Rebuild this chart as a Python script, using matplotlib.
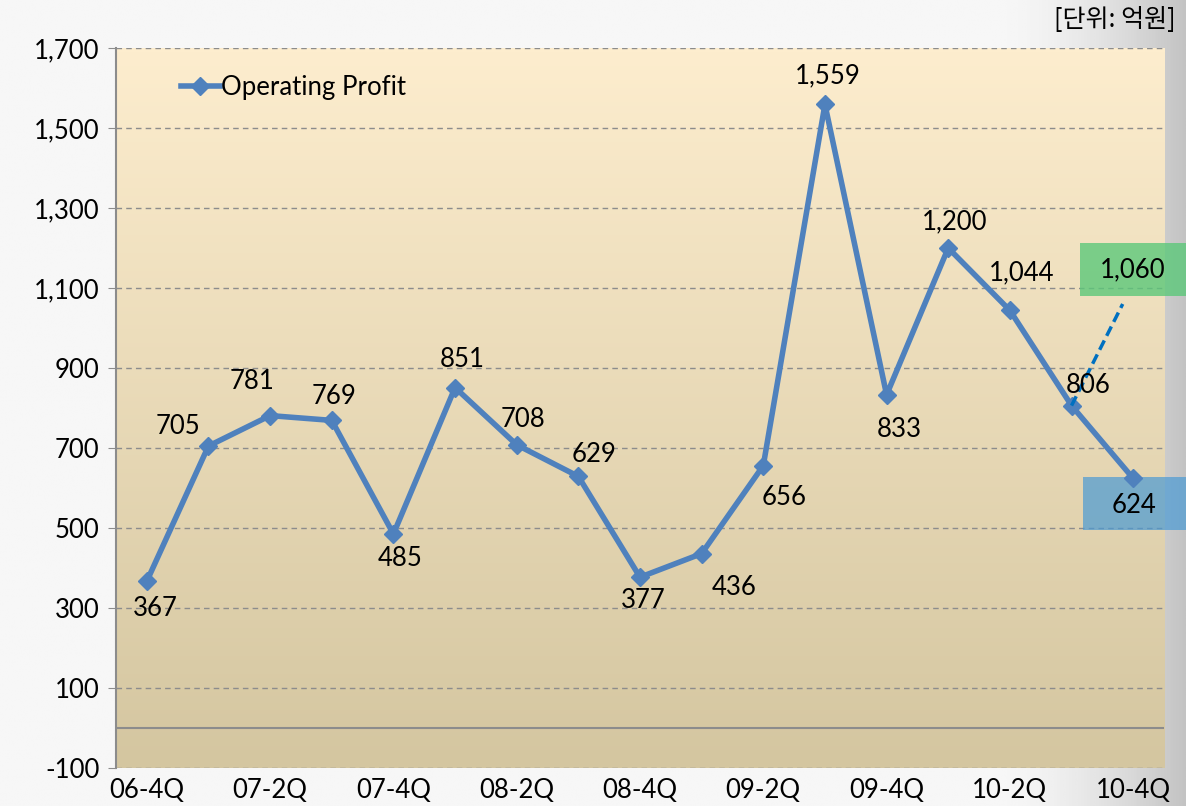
import matplotlib
matplotlib.use("Agg")
import matplotlib.pyplot as plt
from matplotlib.patches import Rectangle
import numpy as np

plt.rcParams['font.family'] = ['Lato', 'Noto Sans CJK KR', 'DejaVu Sans']

# data
quarters = ["06-4Q", "07-1Q", "07-2Q", "07-3Q", "07-4Q", "08-1Q", "08-2Q", "08-3Q",
            "08-4Q", "09-1Q", "09-2Q", "09-3Q", "09-4Q", "10-1Q", "10-2Q", "10-3Q", "10-4Q"]
profit = [367, 705, 781, 769, 485, 851, 708, 629, 377, 436, 656, 1559, 833, 1200, 1044, 806, 624]
forecast_value = 1060
# label placement: (dx, dy) in pixels from the point
label_off = [(8, -27), (-30, 19), (-18, 34), (2, 24), (7, -25), (7, 28), (6, 25), (16, 22),
             (3, -23), (33, -34), (21, -32), (3, 29), (13, -35), (6, 26), (12, 38), (17, 20)]

W, H = 1186, 806
fig = plt.figure(figsize=(W / 100, H / 100), dpi=100)

# figure background: near white, greying at the right edge
bg = fig.add_axes([0, 0, 1, 1], zorder=-10)
grad = np.clip((np.linspace(0, 1, 400) - 0.85) / 0.15, 0, 1) ** 1.5
bg.imshow(np.tile(0.965 - 0.2 * grad, (10, 1)), cmap='gray', vmin=0, vmax=1,
          aspect='auto', extent=[0, 1, 0, 1])
bg.axis('off')

ax = fig.add_axes([116 / W, 1 - 768 / H, 1048 / W, 720 / H])
ax.set_xlim(-0.5, len(quarters) - 0.5)
ax.set_ylim(-100, 1700)

# plot-area gradient
top = np.array([253, 237, 206]) / 255
bot = np.array([212, 198, 160]) / 255
t = np.linspace(0, 1, 200)[:, None]
img = (top * (1 - t) + bot * t)[:, None, :]
ax.imshow(img, aspect='auto', extent=[-0.5, len(quarters) - 0.5, -100, 1700],
          zorder=0, origin='upper')

ax.set_yticks(np.arange(-100, 1701, 200))
ax.set_yticklabels([f"{v:,}" for v in np.arange(-100, 1701, 200)], fontsize=18.5)
ax.yaxis.grid(True, linestyle=(0, (4, 3)), color='#8c8c8c', linewidth=1, zorder=1)
ax.axhline(0, color='#8c8c8c', linewidth=1.5, zorder=1)

x = np.arange(len(quarters))
ax.set_xticks(x[::2])
ax.set_xticklabels(quarters[::2], fontsize=18.5)
ax.tick_params(axis='x', length=0, pad=7)
ax.tick_params(axis='y', length=6, color='#8c8c8c', pad=6)

for s in ['top', 'right', 'bottom']:
    ax.spines[s].set_visible(False)
ax.spines['left'].set_color('#8c8c8c')
ax.spines['left'].set_linewidth(1.5)

line, = ax.plot(x, profit, color='#4F81BD', linewidth=4, marker='D', markersize=9,
                zorder=3, label='Operating Profit')

for xi, v, (dx, dy) in zip(x[:-1], profit[:-1], label_off):
    ax.annotate(f"{v:,}", (xi, v), xytext=(dx, dy), textcoords='offset pixels',
                ha='center', va='center', fontsize=18.5, zorder=4)

# forecast dashed line from 10-3Q towards 1,060
ax.plot([x[-2], x[-1] - 0.17], [profit[-2], forecast_value], color='#0070C0',
        linewidth=2.5, linestyle=(0, (3, 1.5)), zorder=3)

# highlighted value boxes reaching the right edge
ax.add_patch(Rectangle((1080 / W, 1 - 296 / H), 106 / W, 53 / H, transform=fig.transFigure,
                       facecolor='#5CC87A', edgecolor='none', alpha=0.8, zorder=2.5, clip_on=False))
ax.add_patch(Rectangle((1083 / W, 1 - 530 / H), 103 / W, 53 / H, transform=fig.transFigure,
                       facecolor='#4A9AD4', edgecolor='none', alpha=0.7, zorder=2.5, clip_on=False))
ax.text(1133 / W, 1 - 270 / H, f"{forecast_value:,}", transform=fig.transFigure,
        ha='center', va='center', fontsize=18.5, zorder=6)
ax.annotate(f"{profit[-1]:,}", (x[-1], profit[-1]), xytext=(1, -27), textcoords='offset pixels',
            ha='center', va='center', fontsize=18.5, zorder=6)

ax.legend(handles=[line], loc='upper left', bbox_to_anchor=(0.04, 0.995), frameon=False,
          fontsize=18.5, handlelength=1.5, handletextpad=0.05)

fig.text(1176 / W, 1 - 20 / H, "[단위: 억원]", ha='right', va='center', fontsize=18,
         family=['Noto Sans CJK KR', 'DejaVu Sans'])

fig.savefig("out.png", dpi=100)
